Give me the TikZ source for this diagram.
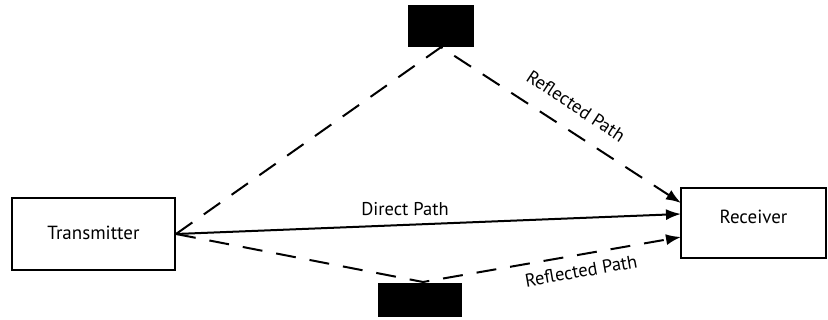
\documentclass[tikz,border=0pt]{standalone}
\usepackage{fontspec}
\setmainfont{PT Sans}
\usetikzlibrary{arrows.meta}
\begin{document}
\begin{tikzpicture}[x=1pt,y=-1pt,
  box/.style={draw,line width=2pt,inner sep=0pt,font=\fontsize{19}{22}\selectfont},
  blk/.style={fill=black,draw=none,inner sep=0pt},
  lbl/.style={font=\fontsize{18.5}{22}\selectfont,inner sep=0pt},
  ray/.style={line width=2pt,-{Latex[length=15pt,width=11pt]}},
  refl/.style={ray,dash pattern=on 20pt off 14pt}]
\useasboundingbox (0,0) rectangle (828,320);
\clip (0,0) rectangle (828,320);
\node[box,minimum width=163pt,minimum height=72pt] (tx) at (93.5,234) {\raisebox{3pt}{Transmitter}};
\node[box,minimum width=145pt,minimum height=70pt] (rx) at (753.5,223) {\raisebox{12pt}{Receiver}};
\node[blk,minimum width=66pt,minimum height=42pt] (top) at (441,26) {};
\node[blk,minimum width=84pt,minimum height=34pt] (bot) at (420,300) {};
\coordinate (tp) at (top.south);
\coordinate (bp) at (423,282);
\coordinate (r1) at (681,203);
\coordinate (r2) at (681,214);
\coordinate (r3) at (681,237);
\draw[ray] (tx.east) -- (r2);
\draw[refl] (tx.east) -- (tp) -- (r1);
\draw[refl] (tx.east) -- (bp) -- (r3);
\node[lbl] (dl) at (405,209) {Direct Path};
\node[lbl,rotate=-33.4] (ul) at (576,106) {Reflected Path};
\node[lbl,rotate=10] (ll) at (581,271) {Reflected Path};
\end{tikzpicture}
\end{document}
